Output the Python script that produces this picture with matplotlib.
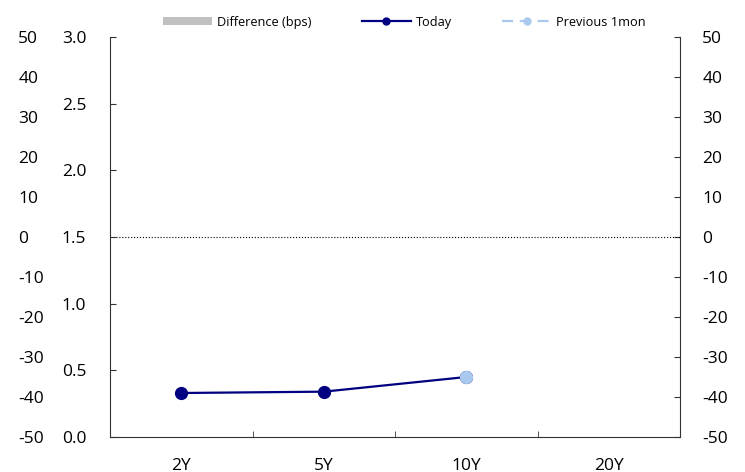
import matplotlib
matplotlib.use("Agg")
import matplotlib.pyplot as plt
import numpy as np
from matplotlib.patches import Patch
from matplotlib.lines import Line2D

tenors = ["2Y", "5Y", "10Y", "20Y"]
today = [0.33, 0.34, 0.45, np.nan]
prev_1mon = [np.nan, np.nan, 0.45, np.nan]
diff_bps = [0, 0, 0, 0]

yield_ticks = [0.0, 0.5, 1.0, 1.5, 2.0, 2.5, 3.0]
bps_ticks = list(range(-50, 51, 10))

NAVY = "#000080"
LIGHT = "#a9c9ef"
GRAY = "#c0c0c0"

plt.rcParams["font.family"] = ["Open Sans", "DejaVu Sans"]

fig = plt.figure(figsize=(7.45, 4.72), dpi=100)
x = np.arange(len(tenors))

ax = fig.add_axes([110 / 745, 35 / 472, 570 / 745, 400 / 472])  # bps, right
ay = ax.twinx()   # yield, inner left
ao = ax.twinx()   # bps labels repeated on outer left

# bps axis
ax.bar(x, diff_bps, width=0.5, color=GRAY)
ax.set_ylim(-50, 50)
ax.set_yticks(bps_ticks)
ax.set_yticklabels([str(t) for t in bps_ticks])
ax.yaxis.set_ticks_position("right")
ax.tick_params(axis="y", direction="in", length=4, pad=16, labelsize=12.5, color="#333333",
               left=False, labelleft=False, right=True, labelright=True)
ax.axhline(0, color="black", ls=":", lw=0.8)
ax.set_xlim(-0.5, len(tenors) - 0.5)
ax.set_xticks(x)
ax.set_xticklabels(tenors)
ax.set_xticks(np.arange(-0.5, len(tenors), 1.0), minor=True)
ax.tick_params(axis="x", which="major", length=0, pad=15, labelsize=12.5)
ax.tick_params(axis="x", which="minor", direction="in", length=4, color="#333333")
for s in ax.spines.values():
    s.set_color("#333333")
    s.set_linewidth(0.8)
ax.spines["top"].set_visible(False)

# yield axis
ay.set_ylim(0, 3)
ay.set_yticks(yield_ticks)
ay.set_yticklabels([f"{t:.1f}" for t in yield_ticks])
ay.tick_params(axis="y", direction="in", length=4, pad=17, labelsize=12.5, color="#333333",
               left=True, labelleft=True, right=False, labelright=False)
for s in ay.spines.values():
    s.set_visible(False)
ay.plot(x, today, color=NAVY, lw=1.6, marker="o", ms=8.5, zorder=3)
ay.plot(x, prev_1mon, color=LIGHT, lw=1.6, ls="--", marker="o", ms=8.5, zorder=4)

# outer bps labels
ao.set_ylim(-50, 50)
ao.set_yticks(bps_ticks)
ao.set_yticklabels([str(t) for t in bps_ticks])
ao.tick_params(axis="y", length=0, pad=66, labelsize=12.5,
               left=True, labelleft=True, right=False, labelright=False)
for t in ao.yaxis.get_major_ticks():
    t.label1.set_horizontalalignment("left")
for s in ao.spines.values():
    s.set_visible(False)

handles = [
    Patch(facecolor=GRAY, edgecolor="none"),
    Line2D([], [], color=NAVY, lw=1.6, marker="o", ms=5),
    Line2D([], [], color=LIGHT, lw=1.6, dashes=(5, 3), marker="o", ms=5),
]
labels = ["Difference (bps)", "Today", "Previous 1mon"]
fig.legend(handles, labels, ncol=3, loc="center", bbox_to_anchor=(0.543, 0.953),
           frameon=False, fontsize=9.2, handlelength=3.85, handleheight=0.55,
           columnspacing=3.9, handletextpad=0.4, borderpad=0)

fig.savefig("out.png", dpi=100)
